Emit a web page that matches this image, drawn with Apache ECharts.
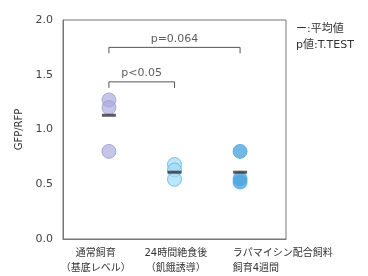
<!DOCTYPE html>
<html><head><meta charset="utf-8">
<script src="https://cdn.jsdelivr.net/npm/echarts@6/dist/echarts.min.js"></script>
<style>html,body{margin:0;padding:0;background:#fff}#c{width:368px;height:276px}</style>
</head><body><div id="c"></div>
<script>
// ---- data ----
const categories = ['通常飼育\n（基底レベル）', '24時間絶食後\n（飢餓誘導）', 'ラパマイシン配合飼料\n飼育4週間'];
const group1 = [1.27, 1.20, 0.80];
const group2 = [0.68, 0.63, 0.545];
const group3 = [0.80, 0.55, 0.52];
const means = [1.13, 0.61, 0.61];
const yTicks = [0, 0.5, 1.0, 1.5, 2.0];
const bracketFrom = [0, 0];
const bracketTo = [1, 2];
const bracketTop = [1.435, 1.75];
const bracketLabels = ['p<0.05', 'p=0.064'];
const noteLines = ['ー:平均値', 'p値:T.TEST'];

// ---- style / layout ----
const FONT = '"DejaVu Sans", "Noto Sans CJK JP", sans-serif';
const groupStyles = [
  {color: 'rgba(170,170,222,0.85)', borderColor: '#9a9ad2', borderWidth: 1},
  {color: 'rgba(160,218,248,0.85)', borderColor: '#5cb3e6', borderWidth: 1},
  {color: '#4ea6de', borderColor: '#4ea6de', borderWidth: 1}
];
const labelAnchors = [-0.2, 1.02, 2.68];
const bracketDrop = 0.055;

const chart = echarts.init(document.getElementById('c'), null, {renderer: 'canvas'});
const groups = [group1, group2, group3];
const series = [];
groups.forEach((g, i) => {
  series.push({
    type: 'scatter', symbol: 'circle', symbolSize: 14,
    data: g.map(v => [i, v]),
    itemStyle: groupStyles[i], z: 2, silent: true
  });
});
series.push({
  type: 'scatter', symbol: 'rect', symbolSize: [14, 3],
  data: means.map((v, i) => [i, v]),
  itemStyle: {color: '#333'}, z: 5, silent: true
});
bracketLabels.forEach((lab, k) => {
  const a = bracketFrom[k], b = bracketTo[k], t = bracketTop[k];
  series.push({
    type: 'line', symbol: 'none', silent: true, z: 3,
    data: [[a, t - bracketDrop], [a, t], [b, t], [b, t - bracketDrop]],
    lineStyle: {color: '#555', width: 1}
  });
  series.push({
    type: 'scatter', symbolSize: 0, silent: true,
    data: [[(a + b) / 2, t]],
    label: {show: true, position: 'top', distance: 3, formatter: lab,
      color: '#333', fontSize: 11, fontFamily: FONT}
  });
});

chart.setOption({
  animation: false,
  grid: {left: 63, top: 20, right: 82, bottom: 35, show: true, borderColor: '#777', borderWidth: 1},
  xAxis: {
    type: 'value', min: -0.7, max: 2.7,
    splitLine: {show: false}, axisTick: {show: false},
    axisLine: {show: true, onZero: false, lineStyle: {color: '#777'}},
    axisLabel: {
      customValues: labelAnchors, margin: 7,
      fontFamily: FONT, fontSize: 10, color: '#333', lineHeight: 15,
      formatter: (v) => {
        const idx = labelAnchors.indexOf(v);
        const lines = categories[idx].split('\n');
        const st = idx === 2 ? 'l' : 'c';
        return lines.map(s => '{' + st + '|' + s + '}').join('\n');
      },
      rich: {
        c: {fontFamily: FONT, fontSize: 10, color: '#333', lineHeight: 15},
        l: {fontFamily: FONT, fontSize: 10, color: '#333', lineHeight: 15, width: 104, align: 'left'}
      }
    }
  },
  yAxis: {
    type: 'value', min: 0, max: 2, interval: 0.5,
    name: 'GFP/RFP', nameLocation: 'middle', nameGap: 30,
    nameTextStyle: {fontFamily: FONT, fontSize: 10, color: '#333'},
    splitLine: {show: false}, axisTick: {show: false},
    axisLine: {show: true, onZero: false, lineStyle: {color: '#777'}},
    axisLabel: {fontFamily: FONT, fontSize: 11, color: '#444', margin: 10,
      formatter: v => yTicks.includes(v) ? v.toFixed(1) : ''}
  },
  graphic: [{
    type: 'text', left: 296, top: 21,
    style: {text: noteLines.join('\n'), fontFamily: FONT, fontSize: 11, lineHeight: 16, fill: '#333'}
  }],
  series: series
});
</script></body></html>
